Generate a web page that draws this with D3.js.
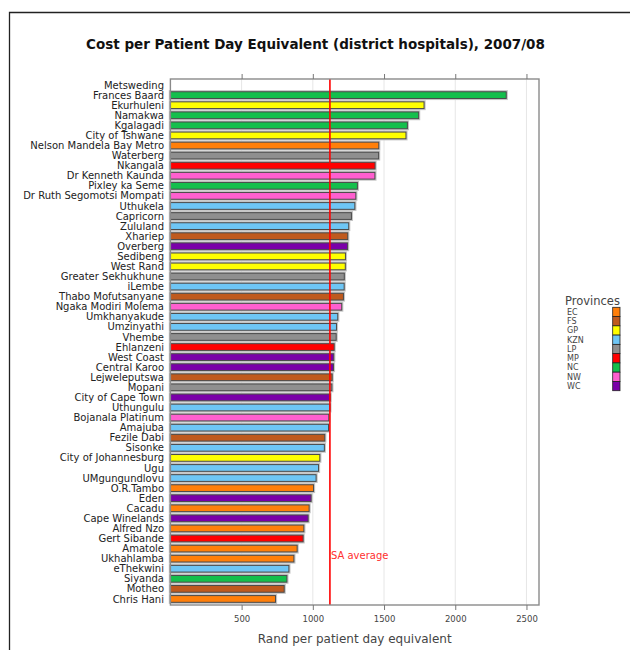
<!DOCTYPE html>
<html><head><meta charset="utf-8">
<script src="https://cdn.jsdelivr.net/npm/d3@7"></script>
<style>body{margin:0;background:#fff}svg{display:block}text{font-family:"DejaVu Sans",sans-serif}</style>
</head><body><svg id="c" width="630" height="650"></svg>
<script>
const districts = ["Metsweding","Frances Baard","Ekurhuleni","Namakwa","Kgalagadi","City of Tshwane","Nelson Mandela Bay Metro","Waterberg","Nkangala","Dr Kenneth Kaunda","Pixley ka Seme","Dr Ruth Segomotsi Mompati","Uthukela","Capricorn","Zululand","Xhariep","Overberg","Sedibeng","West Rand","Greater Sekhukhune","iLembe","Thabo Mofutsanyane","Ngaka Modiri Molema","Umkhanyakude","Umzinyathi","Vhembe","Ehlanzeni","West Coast","Central Karoo","Lejweleputswa","Mopani","City of Cape Town","Uthungulu","Bojanala Platinum","Amajuba","Fezile Dabi","Sisonke","City of Johannesburg","Ugu","UMgungundlovu","O.R.Tambo","Eden","Cacadu","Cape Winelands","Alfred Nzo","Gert Sibande","Amatole","Ukhahlamba","eThekwini","Siyanda","Motheo","Chris Hani"];
const costs = [null,2358,1781,1743,1664,1654,1463,1462,1437,1436,1313,1302,1295,1271,1252,1245,1244,1229,1228,1221,1220,1215,1203,1175,1166,1164,1150,1147,1145,1136,1134,1122,1120,1112,1110,1084,1081,1049,1040,1023,1005,988,974,967,937,932,890,867,832,818,799,738];
const districtProvince = ["GP","NC","GP","NC","NC","GP","EC","LP","MP","NW","NC","NW","KZN","LP","KZN","FS","WC","GP","GP","LP","KZN","FS","NW","KZN","KZN","LP","MP","WC","WC","FS","LP","WC","KZN","NW","KZN","FS","KZN","GP","KZN","KZN","EC","WC","EC","WC","EC","MP","EC","EC","KZN","NC","FS","EC"];
const provinces = ["EC","FS","GP","KZN","LP","MP","NC","NW","WC"];
const provinceColors = ["#ff7f0a","#bf5a1e","#ffff00","#6ec6f5","#8f8f8f","#ff0000","#14bf4c","#ff5fcf","#7a00a8"];
const xTicks = [500,1000,1500,2000,2500];
const saAverage = 1120;

const svg = d3.select("#c");
const L = 170.4, R = 539, T = 79, B = 605;
const x = d3.scaleLinear().domain([0,2588]).range([L,R]);
const y = d3.scalePoint().domain(districts).range([T,B]).padding(0.6);
const color = d3.scaleOrdinal().domain(provinces).range(provinceColors);
const data = districts.map((d,i)=>({name:d,value:costs[i],prov:districtProvince[i]}));

function fit(sel, w){ const n=sel.node(); const fs=parseFloat(sel.attr("font-size")); const l=n.getComputedTextLength(); sel.attr("font-size", fs*w/l); }

// outer frame
svg.append("path").attr("d","M9.5,650V12.5H630").attr("fill","none").attr("stroke","#222").attr("stroke-width",1.3);

// title
const t = svg.append("text").attr("x",315.5).attr("y",49).attr("text-anchor","middle").attr("font-weight","bold").attr("font-size",12).attr("fill","#111").text("Cost per Patient Day Equivalent (district hospitals), 2007/08");
fit(t,459);

// grid
svg.append("g").selectAll("line").data(xTicks).join("line")
  .attr("x1",d=>x(d)).attr("x2",d=>x(d)).attr("y1",T).attr("y2",B).attr("stroke","#e6e6e6").attr("stroke-width",1);

// bars
const bh = y.step()*2/3;
const bd = data.filter(d=>d.value!=null);
svg.append("g").selectAll("rect").data(bd).join("rect")
  .attr("x",x(0)).attr("y",d=>y(d.name)-bh/2).attr("width",d=>x(d.value)-x(0)).attr("height",bh)
  .attr("fill","none").attr("stroke","#c4c4c4").attr("stroke-width",3.2);
svg.append("g").selectAll("rect").data(bd).join("rect")
  .attr("x",x(0)).attr("y",d=>y(d.name)-bh/2).attr("width",d=>x(d.value)-x(0)).attr("height",bh)
  .attr("fill",d=>color(d.prov)).attr("stroke","#4a4a4a").attr("stroke-width",1);

// SA average line
svg.append("line").attr("x1",x(saAverage)).attr("x2",x(saAverage)).attr("y1",T).attr("y2",B).attr("stroke","#ff0000").attr("stroke-width",1.6);
svg.append("text").attr("x",x(saAverage)+1).attr("y",558.5).attr("font-size",10).attr("fill","#ff3030").text("SA average");

// frame
svg.append("rect").attr("x",L).attr("y",T).attr("width",R-L).attr("height",B-T).attr("fill","none").attr("stroke","#8a8a8a").attr("stroke-width",1.4);

// axes
const xb = svg.append("g").attr("transform",`translate(0,${B})`).call(d3.axisBottom(x).tickValues(xTicks).tickFormat(d3.format("d")).tickSize(5).tickPadding(6));
const xt = svg.append("g").attr("transform",`translate(0,${T})`).call(d3.axisTop(x).tickValues(xTicks).tickSize(5).tickFormat(""));
[xb,xt].forEach(g=>{g.select(".domain").remove(); g.selectAll("line").attr("stroke","#777");});
xb.selectAll("text").attr("font-size",8.5).attr("font-family","DejaVu Sans").attr("fill","#444");

// y labels
svg.append("g").selectAll("text").data(districts).join("text")
  .attr("x",164).attr("y",d=>y(d)).attr("dy","0.36em").attr("text-anchor","end").attr("font-size",10).attr("fill","#222").text(d=>d);

// x title
const xtl = svg.append("text").attr("x",(L+R)/2).attr("y",643).attr("text-anchor","middle").attr("font-size",11).attr("fill","#444").text("Rand per patient day equivalent");
fit(xtl,194);

// legend
const lg = svg.append("g");
const lt = lg.append("text").attr("x",565).attr("y",305).attr("font-size",10).attr("fill","#444").text("Provinces");
fit(lt,55);
const lh = (390.7-307.3)/provinces.length;
lg.selectAll("rect").data(provinces).join("rect")
  .attr("x",612.7).attr("y",(d,i)=>307.3+i*lh).attr("width",7.3).attr("height",lh)
  .attr("fill",d=>color(d)).attr("stroke","#222").attr("stroke-width",0.8);
lg.selectAll("text.l").data(provinces).join("text").attr("class","l")
  .attr("x",567).attr("y",(d,i)=>307.3+i*lh+lh/2).attr("dy","0.36em").attr("font-size",8).attr("fill","#444").text(d=>d);
</script></body></html>
